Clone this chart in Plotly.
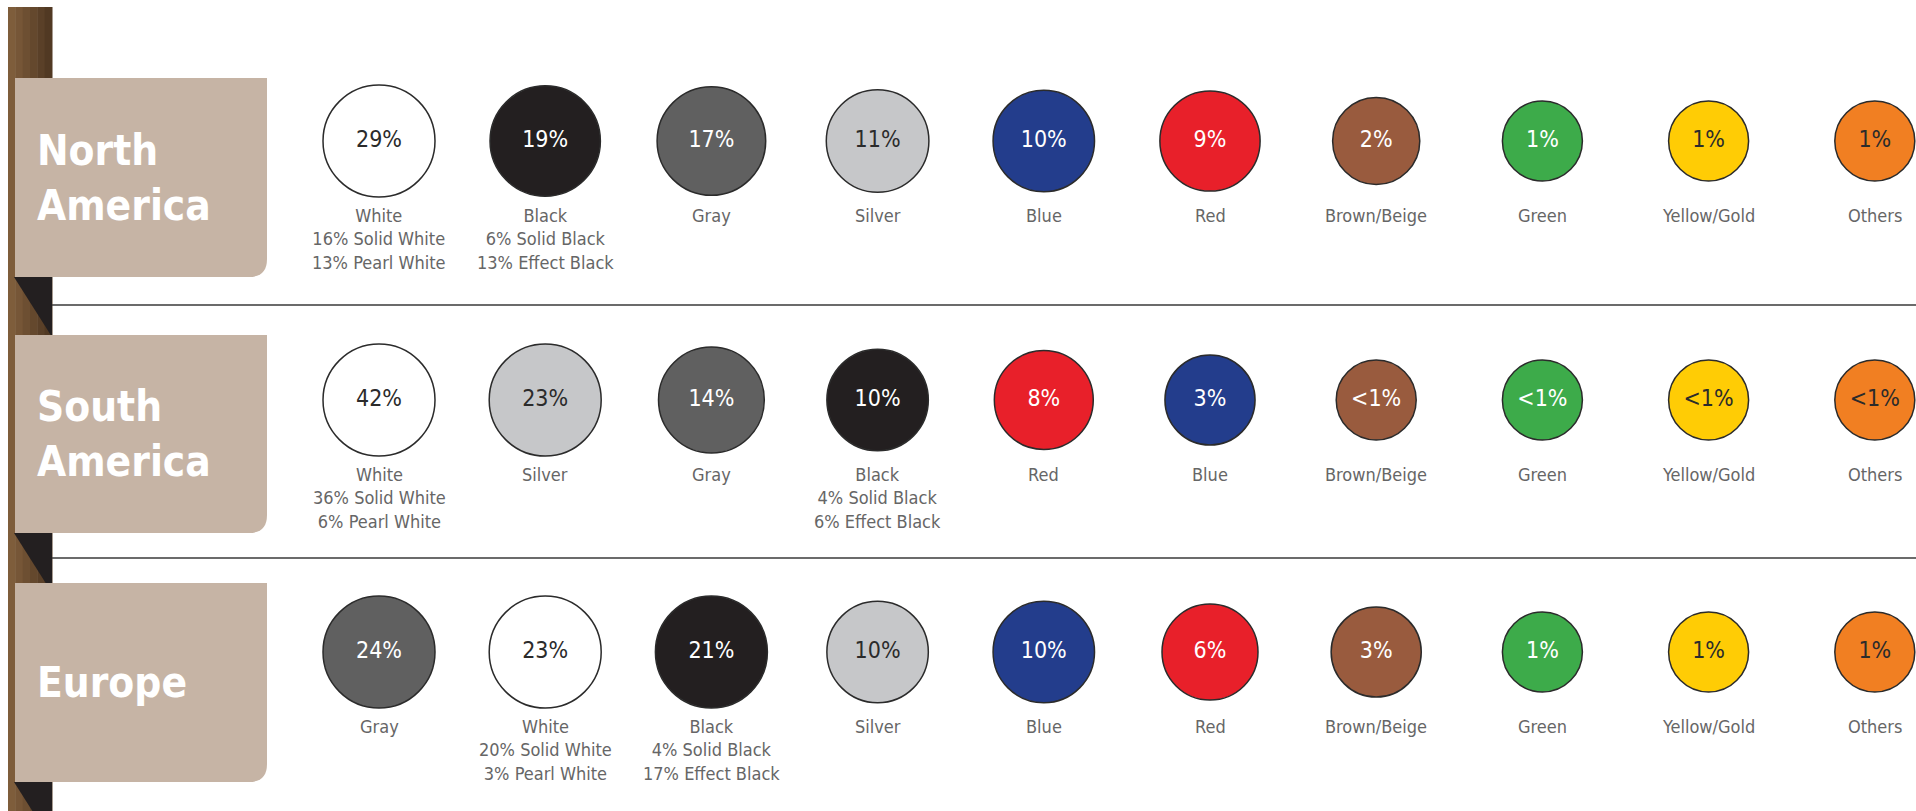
import plotly.graph_objects as go

W, H = 1916, 811

regions = ["North<br>America", "South<br>America", "Europe"]

na_colors = ["White", "Black", "Gray", "Silver", "Blue", "Red", "Brown/Beige", "Green", "Yellow/Gold", "Others"]
na_share = [29, 19, 17, 11, 10, 9, 2, 1, 1, 1]
na_white = [16, 13]   # solid, pearl
na_black = [6, 13]    # solid, effect

sa_colors = ["White", "Silver", "Gray", "Black", "Red", "Blue", "Brown/Beige", "Green", "Yellow/Gold", "Others"]
sa_share = [42, 23, 14, 10, 8, 3, "<1", "<1", "<1", "<1"]
sa_white = [36, 6]
sa_black = [4, 6]

eu_colors = ["Gray", "White", "Black", "Silver", "Blue", "Red", "Brown/Beige", "Green", "Yellow/Gold", "Others"]
eu_share = [24, 23, 21, 10, 10, 6, 3, 1, 1, 1]
eu_white = [20, 3]
eu_black = [4, 17]

COLOR_HEX = {
    "White": "#ffffff", "Black": "#231f20", "Gray": "#606060", "Silver": "#c6c7c9",
    "Blue": "#233d8c", "Red": "#e8202a", "Brown/Beige": "#995b3e", "Green": "#3dab4a",
    "Yellow/Gold": "#ffcc05", "Others": "#f17f22",
}
DARK_TEXT = {"White", "Silver", "Yellow/Gold", "Others"}

FONT = "DejaVu Sans Condensed, DejaVu Sans, sans-serif"
BOX = "#c6b4a5"


def px(x):
    return x / W


def py(y):
    return 1 - y / H


def diameter(v):
    v = 1 if isinstance(v, str) else v
    return 80 + 32 * min(1, (max(v, 1) - 1) / 20) ** 0.5


def label(name, white, black):
    if name == "White":
        return f"White<br>{white[0]}% Solid White<br>{white[1]}% Pearl White"
    if name == "Black":
        return f"Black<br>{black[0]}% Solid Black<br>{black[1]}% Effect Black"
    return name


rows = [
    (na_colors, na_share, na_white, na_black),
    (sa_colors, sa_share, sa_white, sa_black),
    (eu_colors, eu_share, eu_white, eu_black),
]
row_centers = [141, 400, 652]
box_spans = [(78, 277), (335, 533), (583, 782)]

fig = go.Figure()
annotations = []
for r, (names, shares, white, black) in enumerate(rows):
    yref = "y" if r == 0 else f"y{r + 1}"
    xs = list(range(len(names)))
    fig.add_trace(go.Scatter(
        x=xs, y=[0] * len(names), yaxis=yref, mode="markers+text",
        marker=dict(size=[diameter(v) for v in shares],
                    color=[COLOR_HEX[n] for n in names],
                    line=dict(color="#2b2b2b", width=1.5), opacity=1),
        text=[f"{v}%" for v in shares], textposition="middle center",
        textfont=dict(family=FONT, size=23,
                      color=["#2b2b2b" if n in DARK_TEXT else "#ffffff" for n in names]),
        hoverinfo="skip", showlegend=False, cliponaxis=False,
    ))
    for i, n in enumerate(names):
        annotations.append(dict(
            x=i, y=0, xref="x", yref=yref, yshift=-62, yanchor="top", xanchor="center",
            text=label(n, white, black), showarrow=False, align="center",
            font=dict(family=FONT, size=18, color="#666666"),
        ))
    y0, y1 = box_spans[r]
    annotations.append(dict(
        x=px(35), y=py((y0 + y1) / 2), xref="paper", yref="paper", xanchor="left",
        yanchor="middle", text=f"<b>{regions[r]}</b>", showarrow=False, align="left",
        font=dict(family=FONT, size=42, color="#ffffff"),
    ))

shapes = []
# ribbon on the left
strip_cols = ["#7e5d3b", "#765637", "#6d4f32", "#64482d", "#5a4028", "#513923"]
sw = (52 - 8) / len(strip_cols)
for k, c in enumerate(strip_cols):
    shapes.append(dict(type="rect", xref="paper", yref="paper", layer="below",
                       x0=px(8 + k * sw), x1=px(8 + (k + 1) * sw + 0.5), y0=py(H), y1=py(7),
                       fillcolor=c, line=dict(width=0)))
for y0, y1 in box_spans:
    shapes.append(dict(type="path", xref="paper", yref="paper", layer="below",
                       path=f"M {px(14)},{py(y1)} L {px(52)},{py(y1)} L {px(52)},{py(y1 + 60)} Z",
                       fillcolor="#231f20", line=dict(width=0)))
# separators
for y in [305, 558]:
    shapes.append(dict(type="line", xref="paper", yref="paper", layer="below",
                       x0=px(52), x1=1, y0=py(y), y1=py(y), line=dict(color="#3a3a3a", width=1.5)))
# region boxes with rounded bottom-right corner
rad = 18
for y0, y1 in box_spans:
    path = (f"M {px(15)},{py(y0)} L {px(267)},{py(y0)} L {px(267)},{py(y1 - rad)} "
            f"Q {px(267)},{py(y1)} {px(267 - rad)},{py(y1)} L {px(15)},{py(y1)} Z")
    shapes.append(dict(type="path", xref="paper", yref="paper", layer="below",
                       path=path, fillcolor=BOX, line=dict(width=0)))

spacing = 166.2
x0 = -379 / spacing
layout_axes = dict(
    xaxis=dict(range=[x0, x0 + W / spacing], domain=[0, 1], visible=False, fixedrange=True),
)
for r, c in enumerate(row_centers):
    key = "yaxis" if r == 0 else f"yaxis{r + 1}"
    layout_axes[key] = dict(range=[-1, 1], domain=[py(c) - 0.12, py(c) + 0.12],
                            visible=False, fixedrange=True)

fig.update_layout(
    width=W, height=H, margin=dict(l=0, r=0, t=0, b=0),
    paper_bgcolor="#ffffff", plot_bgcolor="rgba(0,0,0,0)",
    shapes=shapes, annotations=annotations, **layout_axes,
)

fig.write_html("out.html", config={"displayModeBar": False},
               post_script="document.body.style.margin = '0';")
